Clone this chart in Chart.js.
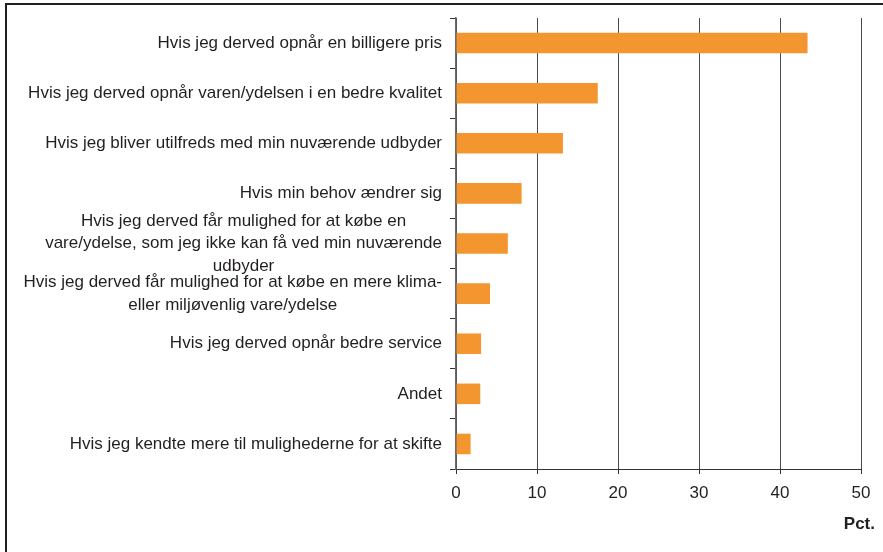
<!DOCTYPE html>
<html>
<head>
<meta charset="utf-8">
<script src="https://cdn.jsdelivr.net/npm/chart.js@4/dist/chart.umd.min.js"></script>
<style>
  html, body { margin: 0; padding: 0; background: #fff; overflow: hidden; }
  #wrap { position: relative; width: 883px; height: 552px; overflow: hidden; }
  #frame { position: absolute; left: 5px; top: 3px; width: 1000px; height: 1000px;
           border-top: 2.5px solid #231f20; border-left: 2.5px solid #231f20; }
  canvas { position: absolute; left: 0; top: 0; }
</style>
</head>
<body>
<div id="wrap">
  <div id="frame"></div>
  <canvas id="c" width="883" height="552"></canvas>
</div>
<script>
// Reasons for switching supplier (percent of respondents)
const categories = [
  "Hvis jeg derved opnår en billigere pris",
  "Hvis jeg derved opnår varen/ydelsen i en bedre kvalitet",
  "Hvis jeg bliver utilfreds med min nuværende udbyder",
  "Hvis min behov ændrer sig",
  ["Hvis jeg derved får mulighed for at købe en", "vare/ydelse, som jeg ikke kan få ved min nuværende", "udbyder"],
  ["Hvis jeg derved får mulighed for at købe en mere klima-", "eller miljøvenlig vare/ydelse"],
  "Hvis jeg derved opnår bedre service",
  "Andet",
  "Hvis jeg kendte mere til mulighederne for at skifte"
];
const values = [43.4, 17.5, 13.2, 8.1, 6.4, 4.2, 3.1, 3.0, 1.8];
const xTicks = [0, 10, 20, 30, 40, 50];
const unitLabel = "Pct.";

const FONT = '"Liberation Sans", Arial, Helvetica, sans-serif';
const TEXT = '#231f20';

// Category labels: each block right-aligned to the axis, lines centred within the block
const categoryLabels = {
  id: 'categoryLabels',
  afterDraw(chart) {
    const ctx = chart.ctx;
    const y = chart.scales.y;
    const x = chart.scales.x;
    const rightEdge = chart.chartArea.left - 14;
    const lh = 22.5;
    ctx.save();
    ctx.fillStyle = TEXT;
    ctx.font = '17px ' + FONT;
    ctx.textBaseline = 'middle';
    ctx.textAlign = 'center';
    categories.forEach((lab, i) => {
      const lines = Array.isArray(lab) ? lab : [lab];
      const maxW = Math.max(...lines.map(l => ctx.measureText(l).width));
      const cx = rightEdge - maxW / 2;
      const cy = y.getPixelForValue(i);
      const start = cy - (lines.length - 1) * lh / 2;
      lines.forEach((l, k) => ctx.fillText(l, cx, start + k * lh));
    });
    // unit label under the value axis
    ctx.font = 'bold 17px ' + FONT;
    ctx.textAlign = 'right';
    ctx.fillText(unitLabel, x.right + 14, x.top + 55);
    ctx.restore();
  }
};

new Chart(document.getElementById('c'), {
  type: 'bar',
  data: {
    labels: categories,
    datasets: [{
      data: values,
      backgroundColor: '#F39630',
      borderWidth: 0,
      categoryPercentage: 1,
      barPercentage: 0.41
    }]
  },
  options: {
    indexAxis: 'y',
    responsive: false,
    animation: false,
    devicePixelRatio: 1,
    layout: { padding: { left: 0, right: 22, top: 18, bottom: 0 } },
    plugins: { legend: { display: false }, tooltip: { enabled: false } },
    scales: {
      x: {
        type: 'linear',
        position: 'bottom',
        min: 0,
        max: 50,
        afterBuildTicks(scale) { scale.ticks = xTicks.map(v => ({ value: v })); },
        afterFit(scale) { scale.height = 83; },
        ticks: { color: TEXT, font: { family: FONT, size: 17 }, padding: 9 },
        grid: { color: '#4a4a4a', lineWidth: 1, tickLength: 5, tickColor: '#333' },
        border: { color: '#333', width: 1 }
      },
      y: {
        type: 'category',
        offset: true,
        afterFit(scale) { scale.width = 456; },
        ticks: { display: false },
        grid: { offset: true, drawOnChartArea: false, tickLength: 6, color: '#333', lineWidth: 1 },
        border: { color: '#6b6b6b', width: 1.5 }
      }
    }
  },
  plugins: [categoryLabels]
});
</script>
</body>
</html>
